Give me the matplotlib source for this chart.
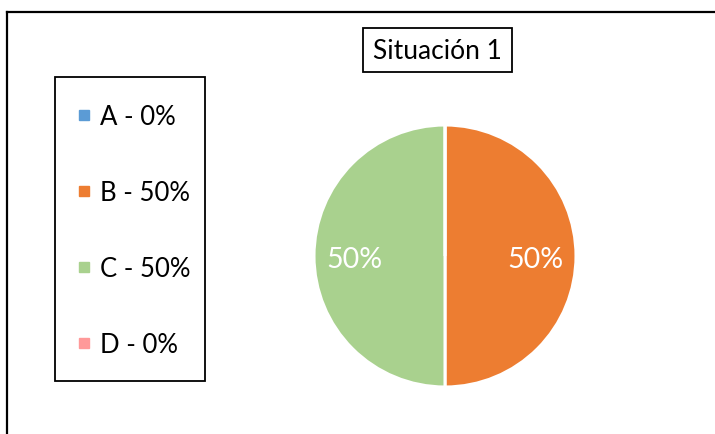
import matplotlib.pyplot as plt
from matplotlib.lines import Line2D
from matplotlib.patches import Rectangle

plt.rcParams['font.family'] = ['Lato', 'DejaVu Sans']

categories = ['A', 'B', 'C', 'D']
shares = [0, 50, 50, 0]
colors = ['#5B9BD5', '#ED7D31', '#A9D18E', '#FF9999']
title = 'Situación 1'

W, H = 715, 435
fig = plt.figure(figsize=(W / 100, H / 100), dpi=100)

def px(x, y):
    # pixel position (from top-left) -> figure fraction
    return x / W, 1 - y / H

# chart area border (only top and left edges fall inside the canvas)
fig.add_artist(Line2D([7 / W, 1.0], [1 - 12.5 / H, 1 - 12.5 / H], color='black', lw=1.6))
fig.add_artist(Line2D([7 / W, 7 / W], [0.0, 1 - 12.5 / H], color='black', lw=1.6))

# pie
cx, cy, r = 445, 257, 131
ax = fig.add_axes([(cx - r) / W, (H - cy - r) / H, 2 * r / W, 2 * r / H])
wedges, _, autotexts = ax.pie(
    shares, colors=colors, startangle=90, counterclock=False,
    autopct=lambda p: f'{p:.0f}%' if p > 0 else '',
    pctdistance=0.69,
    wedgeprops=dict(edgecolor='white', linewidth=2.2),
    textprops=dict(color='white', fontsize=20.5),
)
for t in autotexts:
    x, y = t.get_position()
    t.set_position((x, y - 0.02))
ax.set_aspect('equal')
ax.set_xlim(-1.0, 1.0)
ax.set_ylim(-1.0, 1.0)

# title in a box
fig.text(*px(437.5, 51.5), title, ha='center', va='center', fontsize=19)
x0, y0 = px(363, 73)
fig.add_artist(Rectangle((x0, y0), 149 / W, 44 / H, transform=fig.transFigure,
                         facecolor='none', edgecolor='black', lw=1.3))

# legend
handles = [Line2D([], [], marker='s', linestyle='none', markersize=6.5,
                  markerfacecolor=c, markeredgecolor=c) for c in colors]
labels = [f'{n} - {v}%' for n, v in zip(categories, shares)]
leg = fig.legend(handles, labels, loc='upper left', bbox_to_anchor=px(76.5, 105),
                 frameon=False, fontsize=18.5, labelspacing=1.98,
                 handlelength=0.6, handletextpad=0.32, borderpad=0, borderaxespad=0)
x0, y0 = px(55, 382)
fig.add_artist(Rectangle((x0, y0), 150 / W, 304 / H, transform=fig.transFigure,
                         facecolor='none', edgecolor='black', lw=1.3))

fig.savefig('out.png', dpi=100)
